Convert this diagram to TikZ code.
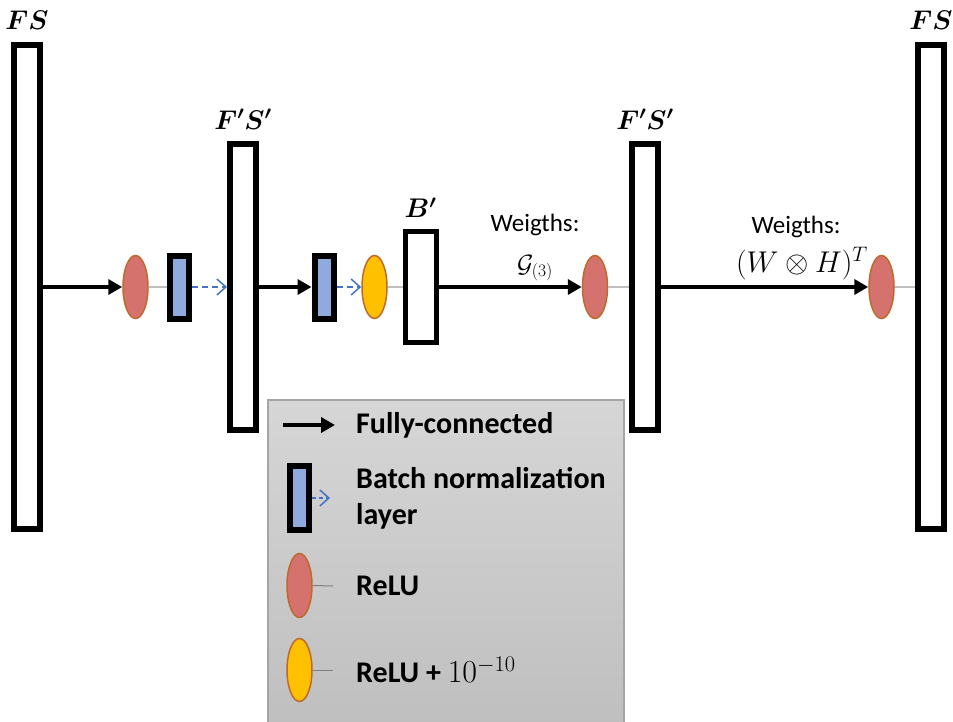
\RequirePackage{fix-cm}
\documentclass[tikz,border=0pt]{standalone}
\usepackage{amsmath}
\usepackage{bm}
\usepackage{fontspec}
\setmainfont{Carlito}
\usepackage{xcolor}
\definecolor{nnred}{RGB}{214,114,110}
\definecolor{nnyellow}{RGB}{255,192,0}
\definecolor{nnedge}{RGB}{190,105,45}
\definecolor{nnblue}{RGB}{143,170,220}
\definecolor{nndash}{RGB}{68,114,196}
\definecolor{nngray}{RGB}{191,191,191}
\definecolor{nnlegtop}{RGB}{214,214,214}
\definecolor{nnlegbot}{RGB}{190,190,190}
\definecolor{nnlegedge}{RGB}{165,165,165}
\usepackage{tikz}
\usetikzlibrary{arrows.meta, positioning, shapes.geometric}

\begin{document}
\begin{tikzpicture}[x=1pt, y=1pt,
  bar/.style={rectangle, draw=black, line width=6pt, fill=white,
              minimum width=26pt, inner sep=0pt},
  bnbox/.style={rectangle, draw=black, line width=6pt, fill=nnblue,
                minimum width=19pt, minimum height=63pt, inner sep=0pt},
  relu/.style={ellipse, draw=nnedge, line width=1.5pt, fill=nnred,
               minimum width=25pt, minimum height=63pt, inner sep=0pt},
  relueps/.style={relu, fill=nnyellow},
  dim/.style={font=\fontsize{27}{32}\selectfont, inner sep=0pt},
  wlbl/.style={font=\fontsize{25}{30}\selectfont, inner sep=0pt},
  leg/.style={font=\fontsize{30}{36}\selectfont\bfseries, inner sep=0pt,
              anchor=west, align=left},
  fc/.style={-{Triangle[length=14pt, width=15pt]}, line width=4pt},
  bn/.style={-{Straight Barb[length=9pt, width=16pt, line width=1.5pt]},
             draw=nndash, line width=2pt, dash pattern=on 6pt off 4pt},
  thin/.style={draw=nngray, line width=1.5pt}
]
\useasboundingbox (0,0) rectangle (953,-722);

% Layers
\node[bar, minimum height=484pt] (fsin) at (27,-287) {};
\node[relu] (r1) at (135.5,-287) {};
\node[bnbox] (bn1) at (179.5,-287) {};
\node[bar, minimum height=285pt] (fsa) at (243,-287) {};
\node[bnbox] (bn2) at (324,-287) {};
\node[relueps] (re) at (374.5,-287) {};
\node[bar, minimum width=31pt, minimum height=111pt, line width=5pt] (bp) at (420.5,-287) {};
\node[relu] (r2) at (595,-287) {};
\node[bar, minimum height=285pt] (fsb) at (645,-287) {};
\node[relu] (r3) at (881.5,-287) {};
\node[bar, minimum height=484pt] (fsout) at (931,-287) {};

% Dimensions above the layers
\node[dim, above=12pt of fsin] (lfsin) {$\bm{FS}$};
\node[dim, above=12pt of fsa] (lfsa) {$\bm{F'S'}$};
\node[dim, above=11pt of bp] (lbp) {$\bm{B'}$};
\node[dim, above=12pt of fsb] (lfsb) {$\bm{F'S'}$};
\node[dim, above=12pt of fsout] (lfsout) {$\bm{FS}$};

% Connections
\draw[fc] (fsin.east) -- (r1.west);
\draw[thin] (r1.east) -- (bn1.west);
\draw[bn] (bn1.east) -- (fsa.west);
\draw[fc] (fsa.east) -- (bn2.west);
\draw[bn] (bn2.east) -- (re.west);
\draw[thin] (re.east) -- (bp.west);
\draw[fc] (bp.east) -- (r2.west);
\draw[thin] (r2.east) -- (fsb.west);
\draw[fc] (fsb.east) -- (r3.west);
\draw[thin] (r3.east) -- (fsout.west);

% Weights
\node[wlbl] (w1) at (535,-225) {Weigths:};
\node[font=\fontsize{25}{30}\selectfont, inner sep=0pt] (g3) at (535,-268) {$\mathcal{G}_{(3)}$};
\node[wlbl] (w2) at (796,-227) {Weigths:};
\node[font=\fontsize{30}{34}\selectfont, inner sep=0pt] (wh) at (802,-264) {$(W\otimes H)^T$};

% Legend
\node[draw=nnlegedge, line width=1.5pt, top color=nnlegtop, bottom color=nnlegbot,
      minimum width=356pt, minimum height=340pt, anchor=north west, inner sep=0pt]
      (legbox) at (267,-399) {};
\coordinate (fcs) at (283,-425);
\coordinate (fce) at (335,-425);
\draw[fc] (fcs) -- (fce);
\node[leg] (lfc) at (356,-425) {Fully-connected};

\node[bnbox, minimum height=64pt] (bnl) at (299.5,-498) {};
\coordinate (bnle) at (330,-498);
\draw[bn, line width=1.5pt, dash pattern=on 4pt off 3pt] (bnl.east) -- (bnle);
\node[leg] (lbn) at (356,-498) {Batch normalization\\layer};

\node[relu, minimum height=64pt] (rl) at (299.5,-585.5) {};
\coordinate (rle) at (333,-586);
\draw[draw=gray, line width=1pt] (rl.east) -- (rle);
\node[leg] (lrelu) at (356,-586) {ReLU};

\node[relueps] (yl) at (299.5,-670) {};
\coordinate (yle) at (333,-670);
\draw[draw=gray, line width=1pt] (yl.east) -- (yle);
\node[leg] (leps) at (356,-670) {ReLU + {\fontsize{32}{32}\selectfont$10^{-10}$}};
\end{tikzpicture}
\end{document}
